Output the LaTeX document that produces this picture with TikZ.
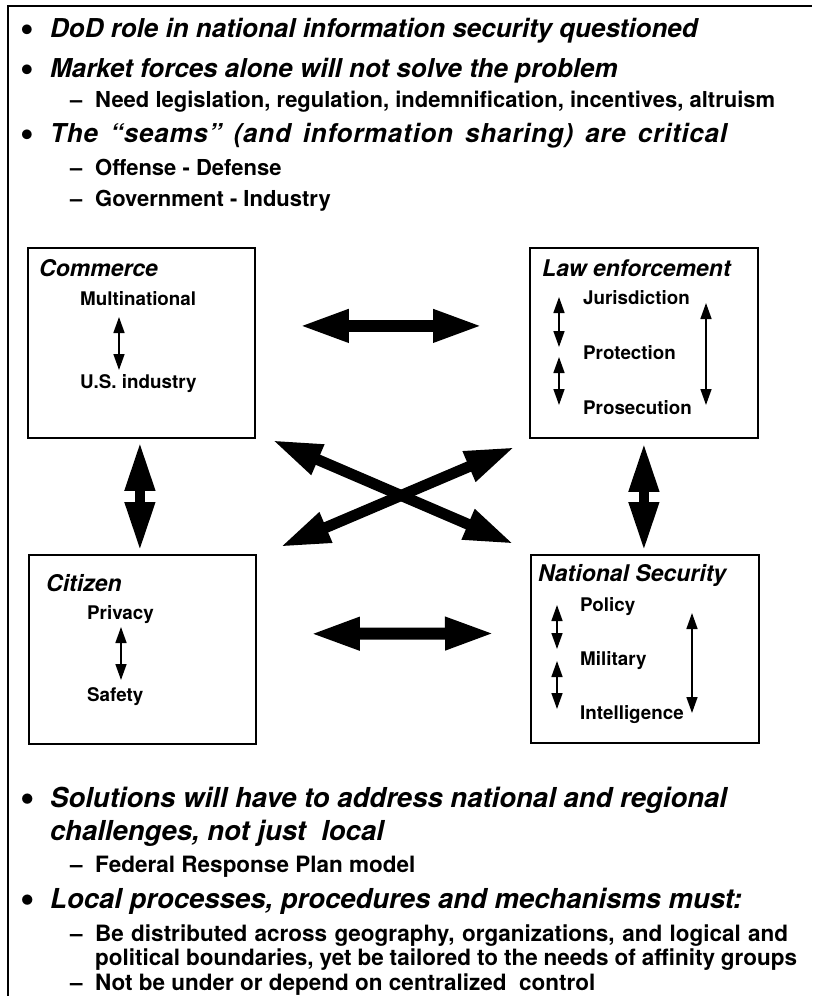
\documentclass[tikz,border=0pt]{standalone}
\usepackage{fontspec}
\setmainfont{TeX Gyre Heros}
\usetikzlibrary{arrows.meta}
\newcommand\bmk{\makebox[30pt][l]{\upshape\raisebox{-4pt}{\scalebox{1.5}{•}}}}
\newcommand\dmk[1]{\makebox[25pt][l]{#1}}
\begin{document}
\begin{tikzpicture}[x=1pt,y=-1pt,
  box/.style={draw, line width=1.8pt, anchor=north west, inner sep=0},
  bul/.style={anchor=base west, inner sep=0, font=\fontsize{26}{26}\selectfont\bfseries\itshape},
  bulb/.style={anchor=base west, inner sep=0, font=\fontsize{27.5}{27.5}\selectfont\bfseries\itshape},
  sub/.style={anchor=base west, inner sep=0, font=\fontsize{22}{22}\selectfont\bfseries},
  subb/.style={anchor=base west, inner sep=0, font=\fontsize{22.5}{22.5}\selectfont\bfseries},
  ttl/.style={anchor=base west, inner sep=0, font=\fontsize{23}{23}\selectfont\bfseries\itshape},
  itm/.style={anchor=base west, inner sep=0, font=\fontsize{18.8}{18.8}\selectfont\bfseries},
  big/.style={line width=12pt, {Triangle[length=50pt,width=30pt]}-{Triangle[length=50pt,width=30pt]}},
  bigv/.style={line width=10pt, {Triangle[length=49pt,width=28pt]}-{Triangle[length=49pt,width=28pt]}},
  small/.style={line width=1.5pt, {Triangle[length=16pt,width=11pt]}-{Triangle[length=16pt,width=11pt]}}
]
\useasboundingbox (0,0) rectangle (812,996);
% frame
\draw[line width=1.8pt] (8,996) -- (8,6) -- (812,6);

% top text
\node[bul] (t1) at (20,37) {\bmk DoD role in national information security questioned};
\node[bul] (t2) at (20,77) {\bmk Market forces alone will not solve the problem};
\node[sub] (t2a) at (70,107) {\dmk{–}Need legislation, regulation, indemnification, incentives, altruism};
\node[bul] (t3) at (20,142) {\bmk{\addfontfeature{LetterSpace=3}\makebox[677pt][s]{The “seams” (and information sharing) are critical}}};
\node[sub] (t3a) at (70,175) {\dmk{–}Offense - Defense};
\node[sub] (t3b) at (70,206) {\dmk{–}Government - Industry};

% boxes
\node[box, minimum width=227pt, minimum height=190pt] (com) at (27,247) {};
\node[box, minimum width=228pt, minimum height=190pt] (law) at (529,247) {};
\node[box, minimum width=227pt, minimum height=189pt] (cit) at (28,554) {};
\node[box, minimum width=228pt, minimum height=188pt] (ns) at (530,554) {};

% commerce
\node[ttl] (comt) at (39,276) {Commerce};
\node[itm] (mult) at (80,305) {Multinational};
\node[itm] (usi) at (80,388) {U.S. industry};
\coordinate (ca1) at (119,317); \coordinate (ca2) at (119,370);
\draw[small] (ca1) -- (ca2);

% law enforcement
\node[ttl] (lawt) at (542,276) {Law enforcement};
\node[itm] (jur) at (583,304) {Jurisdiction};
\node[itm] (pro) at (583,359) {Protection};
\node[itm] (prs) at (583,414) {Prosecution};
\coordinate (la1) at (559,297); \coordinate (la2) at (559,347);
\coordinate (la3) at (559,357); \coordinate (la4) at (559,405);
\coordinate (la5) at (706,303); \coordinate (la6) at (706,405);
\draw[small] (la1) -- (la2);
\draw[small] (la3) -- (la4);
\draw[small] (la5) -- (la6);

% citizen
\node[ttl] (citt) at (46,591) {Citizen};
\node[itm] (prv) at (87,619) {Privacy};
\node[itm] (saf) at (87,701) {Safety};
\coordinate (za1) at (121,627); \coordinate (za2) at (121,680);
\draw[small] (za1) -- (za2);

% national security
\node[ttl] (nst) at (538,581) {National Security};
\node[itm] (pol) at (580,611) {Policy};
\node[itm] (mil) at (580,665) {Military};
\node[itm] (intl) at (580,719) {Intelligence};
\coordinate (na1) at (557,605); \coordinate (na2) at (557,649);
\coordinate (na3) at (557,661); \coordinate (na4) at (557,709);
\coordinate (na5) at (692,613); \coordinate (na6) at (692,713);
\draw[small] (na1) -- (na2);
\draw[small] (na3) -- (na4);
\draw[small] (na5) -- (na6);

% big arrows
\draw[big, shorten <=43pt, shorten >=46pt] ([yshift=17pt]com.east) -- ([yshift=17pt]law.west);
\draw[big, shorten <=53pt, shorten >=35pt] ([yshift=15.5pt]cit.east) -- ([yshift=15.5pt]ns.west);
\draw[bigv, shorten <=3pt, shorten >=3pt] ([xshift=-1.5pt]com.south) -- ([xshift=-2.5pt]cit.north);
\draw[bigv, shorten <=4pt, shorten >=3pt] (law.south) -- ([xshift=-1pt]ns.north);
\coordinate (xa) at (272,440); \coordinate (xb) at (514,544);
\coordinate (xc) at (280,547); \coordinate (xd) at (515,447);
\draw[big, line width=11pt] (xa) -- (xb);
\draw[big, line width=11pt] (xc) -- (xd);

% bottom text
\node[bulb] (b1) at (20,807) {\bmk Solutions will have to address national and regional};
\node[bulb] (b1b) at (50,840) {challenges, not just\ \ local};
\node[subb] (b1a) at (70,872) {\dmk{–}Federal Response Plan model};
\node[bulb] (b2) at (20,908) {\bmk Local processes, procedures and mechanisms must:};
\node[subb] (b2a) at (70,941) {\dmk{–}\makebox[693pt][s]{Be distributed across geography, organizations, and logical and}};
\node[subb] (b2b) at (95,965) {\makebox[702pt][s]{political boundaries, yet be tailored to the needs of affinity groups}};
\node[subb] (b2c) at (70,990) {\dmk{–}Not be under or depend on centralized\ \ control};
\end{tikzpicture}
\end{document}
